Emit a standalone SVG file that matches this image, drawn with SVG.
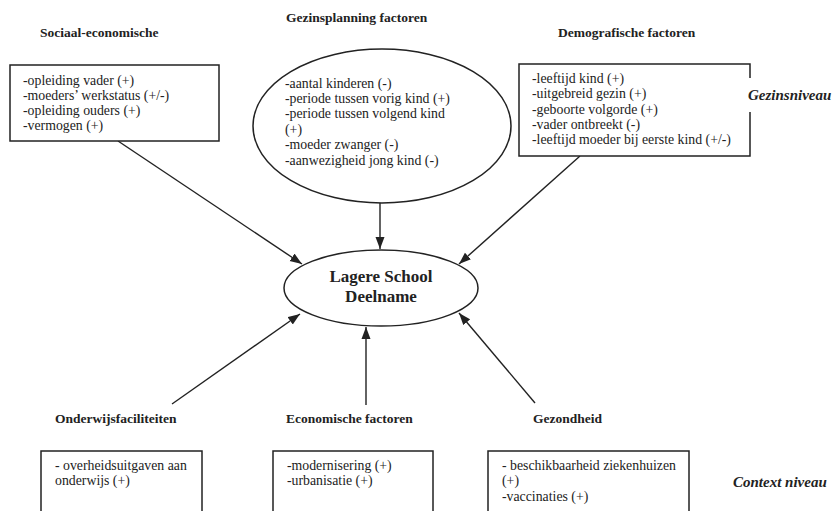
<svg xmlns="http://www.w3.org/2000/svg" width="833" height="511" viewBox="0 0 833 511">
<style>
.t{font-family:'Liberation Serif','Times New Roman',serif;font-size:13.8px;fill:#222}
.h{font-family:'Liberation Serif','Times New Roman',serif;font-size:13.5px;font-weight:bold;fill:#222}
.c{font-family:'Liberation Serif','Times New Roman',serif;font-size:17px;font-weight:bold;fill:#222;text-anchor:middle}
.lv{font-family:'Liberation Serif','Times New Roman',serif;font-size:15px;font-weight:bold;font-style:italic;fill:#222}
.box{fill:#fff;stroke:#222;stroke-width:1.5}
.ln{stroke:#222;stroke-width:1.4;fill:none}
</style>
<defs>
<marker id="a" viewBox="0 0 12 10" refX="12" refY="5" markerWidth="12" markerHeight="10" orient="auto" markerUnits="userSpaceOnUse">
<path d="M0,0.5 L12,5 L0,9.5 Z" fill="#222"/>
</marker>
</defs>
<rect width="833" height="511" fill="#fff"/>

<g id="connectors">
<line class="ln" x1="118" y1="141" x2="302" y2="264" marker-end="url(#a)"/>
<line class="ln" x1="380" y1="203" x2="380" y2="249" marker-end="url(#a)"/>
<line class="ln" x1="580" y1="156" x2="459" y2="264" marker-end="url(#a)"/>
<line class="ln" x1="172" y1="404" x2="300" y2="314" marker-end="url(#a)"/>
<line class="ln" x1="366" y1="405" x2="366" y2="327" marker-end="url(#a)"/>
<line class="ln" x1="535" y1="403" x2="459" y2="313" marker-end="url(#a)"/>
</g>

<g id="sociaal">
<text class="h" x="40" y="37">Sociaal-economische</text>
<rect class="box" x="10" y="65" width="209" height="76"/>
<text class="t" x="23" y="85">-opleiding vader (+)</text>
<text class="t" x="23" y="100">-moeders’ werkstatus (+/-)</text>
<text class="t" x="23" y="115">-opleiding ouders (+)</text>
<text class="t" x="23" y="130">-vermogen (+)</text>
</g>

<g id="gezinsplanning">
<text class="h" x="286" y="22">Gezinsplanning factoren</text>
<ellipse class="box" cx="382" cy="126" rx="129" ry="77"/>
<text class="t" x="285" y="88">-aantal kinderen (-)</text>
<text class="t" x="285" y="103">-periode tussen vorig kind (+)</text>
<text class="t" x="285" y="118">-periode tussen volgend kind</text>
<text class="t" x="285" y="134">(+)</text>
<text class="t" x="285" y="149">-moeder zwanger  (-)</text>
<text class="t" x="285" y="165">-aanwezigheid jong kind (-)</text>
</g>

<g id="demografisch">
<text class="h" x="558" y="37">Demografische factoren</text>
<path class="box" d="M750,78 L750,64 L519,64 L519,156 L750,156 L750,112"/>
<text class="t" x="532" y="83">-leeftijd kind (+)</text>
<text class="t" x="532" y="98">-uitgebreid gezin  (+)</text>
<text class="t" x="532" y="114">-geboorte volgorde (+)</text>
<text class="t" x="532" y="129">-vader ontbreekt (-)</text>
<text class="t" x="532" y="144">-leeftijd moeder bij eerste kind (+/-)</text>
</g>

<g id="gezinsniveau">
<text class="lv" x="748" y="100">Gezinsniveau</text>
</g>

<g id="lagere-school">
<ellipse class="box" cx="381" cy="288" rx="97" ry="38"/>
<text class="c" x="381" y="282">Lagere School</text>
<text class="c" x="381" y="302">Deelname</text>
</g>

<g id="onderwijs">
<text class="h" x="55" y="423">Onderwijsfaciliteiten</text>
<rect class="box" x="41" y="451" width="161" height="70"/>
<text class="t" x="55" y="470">- overheidsuitgaven aan</text>
<text class="t" x="55" y="485">onderwijs (+)</text>
</g>

<g id="economisch">
<text class="h" x="286" y="423">Economische factoren</text>
<rect class="box" x="273" y="451" width="160" height="70"/>
<text class="t" x="287" y="470">-modernisering (+)</text>
<text class="t" x="287" y="485">-urbanisatie  (+)</text>
</g>

<g id="gezondheid">
<text class="h" x="533" y="423">Gezondheid</text>
<rect class="box" x="488" y="451" width="201" height="70"/>
<text class="t" x="502" y="470">- beschikbaarheid ziekenhuizen</text>
<text class="t" x="502" y="485">(+)</text>
<text class="t" x="502" y="501">-vaccinaties (+)</text>
</g>

<g id="context">
<text class="lv" x="733" y="487">Context niveau</text>
</g>
</svg>
